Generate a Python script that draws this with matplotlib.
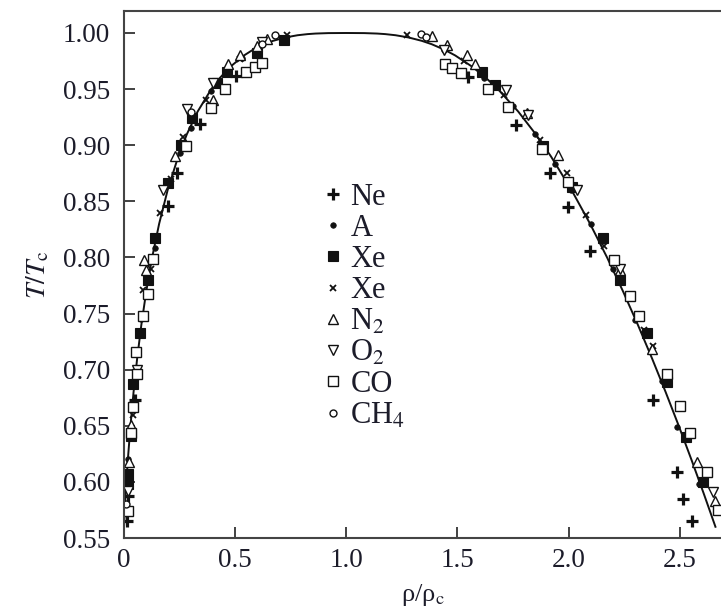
import matplotlib
matplotlib.use("Agg")
import matplotlib.pyplot as plt

plt.rcParams['font.family'] = ['Liberation Serif', 'DejaVu Serif']
plt.rcParams['mathtext.fontset'] = 'stix'

# ---- fitted coexistence curve ----
curve_T = [1.0, 0.9999, 0.9995, 0.999, 0.998, 0.996, 0.993, 0.99, 0.985, 0.98,
           0.97, 0.96, 0.95, 0.93, 0.91, 0.89, 0.86, 0.83, 0.80, 0.77, 0.74,
           0.71, 0.68, 0.65, 0.62, 0.59, 0.56]
curve_rho_liq = [1.0, 1.0813, 1.1393, 1.1758, 1.2220, 1.2808, 1.3400, 1.3845,
                 1.4428, 1.4900, 1.5663, 1.6285, 1.6822, 1.7737, 1.8517, 1.9210,
                 2.0137, 2.0969, 2.1734, 2.2447, 2.3119, 2.3758, 2.4370, 2.4958,
                 2.5526, 2.6076, 2.6610]
curve_rho_gas = [1.0, 0.9188, 0.8615, 0.8258, 0.7810, 0.7252, 0.6705, 0.6305,
                 0.5797, 0.5400, 0.4788, 0.4315, 0.3928, 0.3313, 0.2833, 0.2440,
                 0.1963, 0.1581, 0.1266, 0.1003, 0.0781, 0.0592, 0.0430, 0.0292,
                 0.0174, 0.0074, 0.0000]

# ---- measured points ----
ne_rho = [0.013, 0.018, 0.049, 0.198, 0.238, 0.342, 0.504,
          1.547, 1.763, 1.916, 1.997, 2.096, 2.380, 2.488, 2.515, 2.555]
ne_T = [0.565, 0.587, 0.673, 0.846, 0.875, 0.919, 0.962,
        0.961, 0.918, 0.875, 0.845, 0.806, 0.673, 0.609, 0.585, 0.565]

ar_rho = [0.006, 0.018, 0.03, 0.062, 0.078, 0.14, 0.205, 0.25, 0.30, 0.39, 0.53,
          1.44, 1.62, 1.75, 1.85, 1.939, 2.01, 2.10, 2.20, 2.299, 2.42, 2.488, 2.587]
ar_T = [0.58, 0.62, 0.65, 0.715, 0.745, 0.808, 0.865, 0.893, 0.915, 0.948, 0.978,
        0.985, 0.96, 0.935, 0.91, 0.883, 0.86, 0.83, 0.79, 0.744, 0.69, 0.649, 0.598]

xe1_rho = [0.016, 0.020, 0.031, 0.042, 0.072, 0.107, 0.139, 0.199, 0.256, 0.305,
           0.417, 0.463, 0.60, 0.72,
           1.61, 1.669, 1.885, 2.015, 2.155, 2.231, 2.353, 2.443, 2.528, 2.605]
xe1_T = [0.598, 0.607, 0.641, 0.687, 0.733, 0.780, 0.817, 0.866, 0.900, 0.924,
         0.955, 0.965, 0.982, 0.994,
         0.965, 0.954, 0.899, 0.863, 0.817, 0.780, 0.733, 0.689, 0.640, 0.600]

xe2_rho = [0.008, 0.015, 0.04, 0.085, 0.12, 0.162, 0.21, 0.265, 0.37, 0.52, 0.733,
           1.273, 1.53, 1.71, 1.87, 1.993, 2.08, 2.16, 2.34, 2.38]
xe2_T = [0.575, 0.60, 0.66, 0.771, 0.79, 0.84, 0.87, 0.907, 0.94, 0.977, 0.998,
         0.998, 0.975, 0.945, 0.905, 0.875, 0.838, 0.81, 0.735, 0.721]

n2_rho = [0.024, 0.031, 0.09, 0.099, 0.229, 0.40, 0.468, 0.522, 0.598, 0.643,
          1.385, 1.452, 1.543, 1.58, 1.813, 1.952, 2.231, 2.375, 2.578, 2.659]
n2_T = [0.618, 0.651, 0.798, 0.789, 0.89, 0.94, 0.972, 0.980, 0.988, 0.995,
        0.997, 0.989, 0.98, 0.972, 0.929, 0.891, 0.789, 0.718, 0.618, 0.583]

o2_rho = [0.020, 0.06, 0.176, 0.282, 0.40, 0.62,
          1.44, 1.72, 1.817, 2.04, 2.23, 2.65]
o2_T = [0.592, 0.70, 0.86, 0.932, 0.955, 0.992,
        0.985, 0.949, 0.927, 0.86, 0.79, 0.591]

co_rho = [0.018, 0.03, 0.04, 0.057, 0.054, 0.086, 0.11, 0.131, 0.278, 0.39,
          0.454, 0.549, 0.59, 0.62,
          1.444, 1.475, 1.516, 1.637, 1.727, 1.88, 1.997, 2.204, 2.276, 2.317,
          2.443, 2.501, 2.546, 2.622, 2.672]
co_T = [0.574, 0.644, 0.667, 0.696, 0.716, 0.748, 0.767, 0.799, 0.899, 0.933,
        0.950, 0.965, 0.970, 0.973,
        0.972, 0.969, 0.964, 0.950, 0.934, 0.897, 0.867, 0.798, 0.766, 0.748,
        0.696, 0.668, 0.644, 0.609, 0.575]

ch4_rho = [0.01, 0.30, 0.62, 0.679, 1.336, 1.36]
ch4_T = [0.58, 0.93, 0.99, 0.998, 0.999, 0.996]

labels = ['Ne', 'A', 'Xe', 'Xe', r'N$_2$', r'O$_2$', 'CO', r'CH$_4$']
x_ticks = [0, 0.5, 1.0, 1.5, 2.0, 2.5]
x_tick_labels = ['0', '0.5', '1.0', '1.5', '2.0', '2.5']
y_ticks = [0.55, 0.60, 0.65, 0.70, 0.75, 0.80, 0.85, 0.90, 0.95, 1.00]

fig = plt.figure(figsize=(7.21, 6.09), dpi=100)
ax = fig.add_axes([124/721, 1 - 538/609, 1 - 124/721, (538 - 11)/609])

ink = '#1c1c2a'
ax.plot(curve_rho_gas[::-1] + curve_rho_liq[1:],
        curve_T[::-1] + curve_T[1:], color='#111111', lw=1.4, zorder=2)

common = dict(ls='none', color='#111111')
h = []
h.append(ax.plot(ne_rho, ne_T, marker='+', ms=8.5, mew=2.3, **common)[0])
h.append(ax.plot(ar_rho, ar_T, marker='o', ms=4, mew=0.5, mfc='#111111', **common)[0])
h.append(ax.plot(xe1_rho, xe1_T, marker='s', ms=7, mew=0.8, mfc='#111111', **common)[0])
h.append(ax.plot(xe2_rho, xe2_T, marker='x', ms=4.5, mew=1.3, **common)[0])
h.append(ax.plot(n2_rho, n2_T, marker='^', ms=6.5, mew=1.0, mfc='white', **common)[0])
h.append(ax.plot(o2_rho, o2_T, marker='v', ms=6.5, mew=1.0, mfc='white', **common)[0])
h.append(ax.plot(co_rho, co_T, marker='s', ms=6.5, mew=1.0, mfc='white', **common)[0])
h.append(ax.plot(ch4_rho, ch4_T, marker='o', ms=5, mew=1.0, mfc='white', **common)[0])

leg = ax.legend(h, labels, loc='upper left', bbox_to_anchor=(0.335, 0.674),
                frameon=False, fontsize=22, handlelength=0.6, handletextpad=0.26,
                labelspacing=0.07, borderpad=0.0, borderaxespad=0.0, numpoints=1)
for t in leg.get_texts():
    t.set_color(ink)

ax.set_xlim(0, 2.686)
ax.set_ylim(0.55, 1.0196)
ax.set_xticks(x_ticks)
ax.set_xticklabels(x_tick_labels)
ax.set_yticks(y_ticks)
ax.set_yticklabels(['%.2f' % v for v in y_ticks])
ax.tick_params(direction='in', length=8, width=1.3, labelsize=19.5, colors='#333333',
               labelcolor=ink)
ax.tick_params(axis='y', pad=10)
ax.tick_params(axis='x', pad=7)
ax.spines['right'].set_visible(False)
for s in ['left', 'top', 'bottom']:
    ax.spines[s].set_linewidth(1.5)
    ax.spines[s].set_color('#444444')

ax.set_ylabel(r'$T/T_{\mathrm{c}}$', fontsize=20, color=ink, labelpad=8)
ax.set_xlabel(r'ρ/ρ$_{\mathrm{c}}$', fontsize=19, color=ink, labelpad=7)

fig.savefig('out.png', dpi=100)
